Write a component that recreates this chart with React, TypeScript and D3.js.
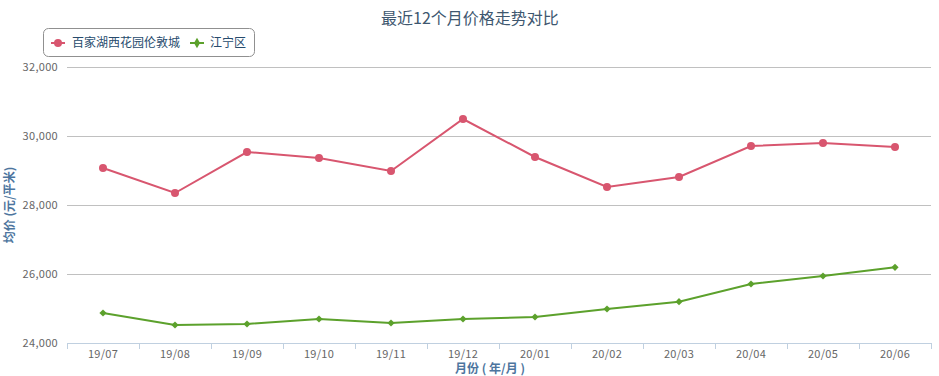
import React from "react";
import * as d3 from "d3";

const categories = ["19/07", "19/08", "19/09", "19/10", "19/11", "19/12", "20/01", "20/02", "20/03", "20/04", "20/05", "20/06"];
const seriesA = [29063, 28340, 29526, 29353, 28977, 30481, 29382, 28513, 28803, 29700, 29787, 29671];
const seriesB = [24868, 24521, 24550, 24694, 24579, 24694, 24752, 24984, 25195, 25707, 25939, 26190];
const yTicks = [24000, 26000, 28000, 30000, 32000];
const seriesNames = ["百家湖西花园伦敦城", "江宁区"];
const title = "最近12个月价格走势对比";
const yTitle = "均价 (元/平米)";
const xTitle = "月份 ( 年/月 )";

const W = 939, H = 376;
const left = 67, right = 931, top = 66.5, bottom = 343;
const RED = "#d8566f";
const GREEN = "#5ca12c";
const FONT = '"Noto Sans CJK SC", "Noto Sans", sans-serif';

export default function App() {
  const x = d3.scaleBand<string>().domain(categories).range([left, right]);
  const y = d3.scaleLinear().domain([24000, 32000]).range([bottom, top]);
  const cx = (c: string) => (x(c) as number) + x.bandwidth() / 2;
  const line = d3.line<number>().x((_, i) => cx(categories[i])).y((d) => y(d));
  const fmt = d3.format(",");
  const boundaries = categories.map((c) => x(c) as number).concat([right]);

  return (
    <svg width={W} height={H} style={{ position: "absolute", left: 0, top: 0, fontFamily: FONT }}>
      <rect width={W} height={H} fill="#fff" />
      <text x={470} y={24} textAnchor="middle" fontSize={16} fill="#3E576F">{title}</text>
      {/* legend */}
      <rect x={43.5} y={28.5} width={211} height={28} rx={5} fill="#fff" stroke="#909090" />
      <line x1={51} x2={65} y1={43} y2={43} stroke={RED} strokeWidth={2} />
      <circle cx={58} cy={43} r={4} fill={RED} />
      <text x={72} y={47} fontSize={12} fill="#274b6d">{seriesNames[0]}</text>
      <line x1={190} x2={204} y1={43} y2={43} stroke={GREEN} strokeWidth={2} />
      <path d={d3.symbol(d3.symbolDiamond, 32)() as string} transform="translate(197,43)" fill={GREEN} />
      <text x={210} y={47} fontSize={12} fill="#274b6d">{seriesNames[1]}</text>
      {/* grid */}
      {yTicks.map((t) => (
        <g key={t}>
          {t !== 24000 && <line x1={left} x2={right} y1={Math.round(y(t)) + 0.5} y2={Math.round(y(t)) + 0.5} stroke="#C0C0C0" />}
          <text x={58} y={y(t) + 4} textAnchor="end" fontSize={11} letterSpacing={0.3} fill="#666">{fmt(t)}</text>
        </g>
      ))}
      {/* x axis */}
      <line x1={left} x2={right} y1={bottom + 0.5} y2={bottom + 0.5} stroke="#C0D0E0" />
      {boundaries.map((b, i) => (
        <line key={i} x1={b + 0.5} x2={b + 0.5} y1={bottom} y2={bottom + 6} stroke="#C0D0E0" />
      ))}
      {categories.map((c) => (
        <text key={c} x={cx(c)} y={358} textAnchor="middle" fontSize={11} letterSpacing={0.3} fill="#666">{c}</text>
      ))}
      <text x={490} y={373} textAnchor="middle" fontSize={12} fontWeight="bold" fill="#4d759e">{xTitle}</text>
      <text transform={`translate(14,205) rotate(-90)`} textAnchor="middle" fontSize={12} fontWeight="bold" fill="#4d759e">{yTitle}</text>
      {/* series */}
      <path d={line(seriesA) as string} fill="none" stroke={RED} strokeWidth={2} />
      {seriesA.map((v, i) => (
        <circle key={i} cx={cx(categories[i])} cy={y(v)} r={4} fill={RED} />
      ))}
      <path d={line(seriesB) as string} fill="none" stroke={GREEN} strokeWidth={2} />
      {seriesB.map((v, i) => (
        <path key={i} d={d3.symbol(d3.symbolSquare, 26)() as string} transform={`translate(${cx(categories[i])},${y(v)}) rotate(45)`} fill={GREEN} />
      ))}
    </svg>
  );
}
